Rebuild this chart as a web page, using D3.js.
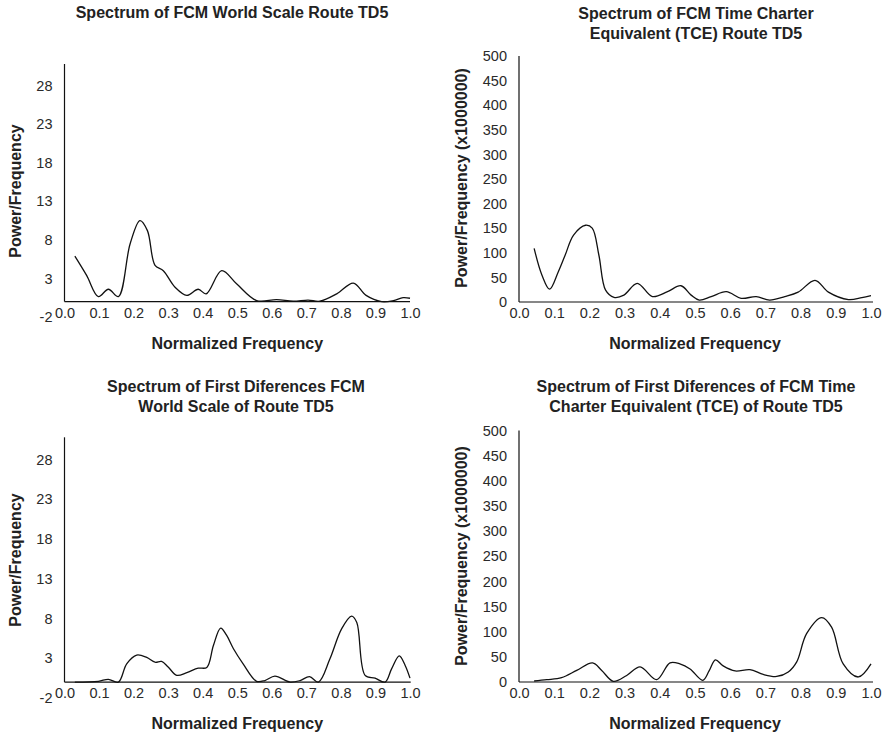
<!DOCTYPE html>
<html>
<head>
    <meta charset="utf-8">
    <title>spectrum-td5</title>
    <style>
body { margin: 0; background: #fff; }
.title, .axis-title { font-family: "Liberation Sans", Arial, sans-serif; font-weight: bold; font-size: 16px; fill: #222; }
.tick text { font-family: "Liberation Sans", Arial, sans-serif; font-size: 14.5px; fill: #2a2a2a; }
.spectrum { fill: none; stroke: #111; stroke-width: 1.3px; }
.axis-line { stroke: #111; stroke-width: 1.2px; }
    </style>
</head>
<body>
    <script src="https://cdn.jsdelivr.net/npm/d3@7"></script>
    <script>
        // tick labels
        var freqTicks = [0, 0.1, 0.2, 0.3, 0.4, 0.5, 0.6, 0.7, 0.8, 0.9, 1.0];
        var wsTicks = [-2, 3, 8, 13, 18, 23, 28];
        var tceTicks = [0, 50, 100, 150, 200, 250, 300, 350, 400, 450, 500];

        // World Scale spectrum
        var wsFreq  = [0.030, 0.064, 0.098, 0.127, 0.156, 0.190, 0.2185, 0.240, 0.262, 0.286, 0.320, 0.354, 0.387, 0.410, 0.455, 0.498, 0.556, 0.614, 0.662, 0.705, 0.739, 0.788, 0.836, 0.873, 0.918, 0.952, 0.980, 1.000];
        var wsPower = [5.9, 3.4, 0.65, 1.6, 0.65, 7.5, 10.5, 9.2, 4.7, 4.0, 1.85, 0.8, 1.6, 1.0, 4.0, 2.3, 0.13, 0.26, 0.05, 0.2, 0.05, 1.0, 2.4, 0.8, 0.0, 0.13, 0.5, 0.43];

        // TCE spectrum (x1000000)
        var tceFreq  = [0.043, 0.065, 0.087, 0.112, 0.131, 0.155, 0.189, 0.208, 0.227, 0.246, 0.270, 0.298, 0.336, 0.379, 0.422, 0.460, 0.489, 0.512, 0.546, 0.589, 0.631, 0.674, 0.712, 0.755, 0.793, 0.841, 0.879, 0.936, 0.974, 1.000];
        var tcePower = [109, 55, 26, 62, 95, 136, 156, 150, 95, 24, 9.5, 14, 38, 11, 21, 33, 14, 4, 11, 21, 7.5, 11, 4, 11, 20, 44, 20, 5, 9, 13];

        // first differences of World Scale
        var dwsFreq  = [0.030, 0.098, 0.127, 0.156, 0.180, 0.209, 0.238, 0.262, 0.281, 0.300, 0.325, 0.354, 0.387, 0.412, 0.431, 0.452, 0.469, 0.489, 0.517, 0.556, 0.580, 0.609, 0.653, 0.682, 0.709, 0.735, 0.768, 0.802, 0.831, 0.846, 0.870, 0.899, 0.928, 0.947, 0.969, 0.986, 1.000];
        var dwsPower = [0.0, 0.1, 0.35, 0.0, 2.3, 3.4, 3.1, 2.5, 2.6, 1.9, 0.85, 1.2, 1.75, 1.85, 4.6, 6.8, 5.9, 4.2, 2.3, 0.1, 0.2, 0.75, 0.0, 0.2, 0.7, 0.0, 2.9, 6.7, 8.3, 7.5, 0.85, 0.5, 0.0, 1.7, 3.3, 2.1, 0.5];

        // first differences of TCE (x1000000)
        var dtceFreq  = [0.043, 0.079, 0.121, 0.164, 0.209, 0.235, 0.268, 0.306, 0.344, 0.391, 0.429, 0.457, 0.486, 0.522, 0.540, 0.558, 0.580, 0.614, 0.656, 0.694, 0.732, 0.765, 0.789, 0.817, 0.860, 0.888, 0.921, 0.964, 1.000];
        var dtcePower = [2, 4.6, 8.7, 23, 38, 23, 1.4, 13, 30, 4.6, 38, 36, 26, 3.4, 22, 44, 32, 22, 24.6, 15, 11, 20, 40, 96, 128, 109, 36, 10, 36];

        var svg = d3.select("body").append("svg")
            .attr("width", 890)
            .attr("height", 735);

        var fmtFreq = d3.format(".1f");
        // plain hyphen for negatives, like the original
        var fmtPower = function (d) { return String(d); };

        function panel(cfg) {
            var x = d3.scaleLinear().domain([0, 1]).range(cfg.xRange);
            var y = d3.scaleLinear().domain(cfg.yDomain).range(cfg.yRange);
            var g = svg.append("g");

            // titles
            var t = g.append("text").attr("class", "title")
                .attr("x", cfg.titleX).attr("y", cfg.titleY)
                .attr("text-anchor", "middle");
            cfg.title.forEach(function (line, i) {
                t.append("tspan").attr("x", cfg.titleX).attr("dy", i === 0 ? 0 : 20).text(line);
            });

            // y axis (ticks only, line drawn from 0 up)
            g.append("g")
                .attr("transform", "translate(" + cfg.xRange[0] + ",0)")
                .call(d3.axisLeft(y).tickValues(cfg.yTicks).tickSize(0).tickPadding(12).tickFormat(fmtPower))
                .call(function (a) { a.select(".domain").remove(); });
            g.append("line").attr("class", "axis-line")
                .attr("x1", cfg.xRange[0]).attr("x2", cfg.xRange[0])
                .attr("y1", y(0)).attr("y2", y(cfg.yDomain[1]));

            // x axis
            g.append("g")
                .attr("transform", "translate(0," + y(0) + ")")
                .call(d3.axisBottom(x).tickValues(freqTicks).tickSize(0).tickPadding(6).tickFormat(fmtFreq))
                .call(function (a) { a.select(".domain").remove(); });
            g.append("line").attr("class", "axis-line")
                .attr("x1", cfg.xRange[0]).attr("x2", cfg.xEnd)
                .attr("y1", y(0)).attr("y2", y(0));

            // axis titles
            g.append("text").attr("class", "axis-title")
                .attr("x", (cfg.xRange[0] + cfg.xRange[1]) / 2).attr("y", y(0) + 47)
                .attr("text-anchor", "middle")
                .text("Normalized Frequency");
            g.append("text").attr("class", "axis-title")
                .attr("transform", "translate(" + cfg.yLabelX + "," + cfg.yLabelY + ") rotate(-90)")
                .attr("text-anchor", "middle")
                .text(cfg.yLabel);

            // spectrum line
            var pts = cfg.freq.map(function (f, i) { return [f, cfg.power[i]]; });
            g.append("path").attr("class", "spectrum")
                .attr("d", d3.line()
                    .x(function (d) { return x(d[0]); })
                    .y(function (d) { return y(d[1]); })
                    .curve(d3.curveCatmullRom.alpha(0.5))(pts));
        }

        panel({
            title: ["Spectrum of FCM World Scale Route TD5"], titleX: 232, titleY: 18,
            xRange: [64.5, 410], xEnd: 410, yDomain: [-2, 30.8], yRange: [317, 64],
            yTicks: wsTicks, yLabel: "Power/Frequency", yLabelX: 21, yLabelY: 191,
            freq: wsFreq, power: wsPower
        });
        panel({
            title: ["Spectrum of FCM Time Charter", "Equivalent (TCE) Route TD5"], titleX: 696, titleY: 19,
            xRange: [519, 871], xEnd: 873, yDomain: [0, 500], yRange: [302, 56],
            yTicks: tceTicks, yLabel: "Power/Frequency (x1000000)", yLabelX: 467, yLabelY: 178,
            freq: tceFreq, power: tcePower
        });
        panel({
            title: ["Spectrum of First Diferences FCM", "World Scale of Route TD5"], titleX: 236, titleY: 392,
            xRange: [64.5, 410], xEnd: 410.7, yDomain: [-2, 30.8], yRange: [698, 437.3],
            yTicks: wsTicks, yLabel: "Power/Frequency", yLabelX: 21, yLabelY: 560,
            freq: dwsFreq, power: dwsPower
        });
        panel({
            title: ["Spectrum of First Diferences of FCM Time", "Charter Equivalent (TCE) of Route TD5"], titleX: 696, titleY: 392,
            xRange: [519, 871], xEnd: 873, yDomain: [0, 500], yRange: [682, 430.5],
            yTicks: tceTicks, yLabel: "Power/Frequency (x1000000)", yLabelX: 467, yLabelY: 556,
            freq: dtceFreq, power: dtcePower
        });
    </script>
</body>
</html>
